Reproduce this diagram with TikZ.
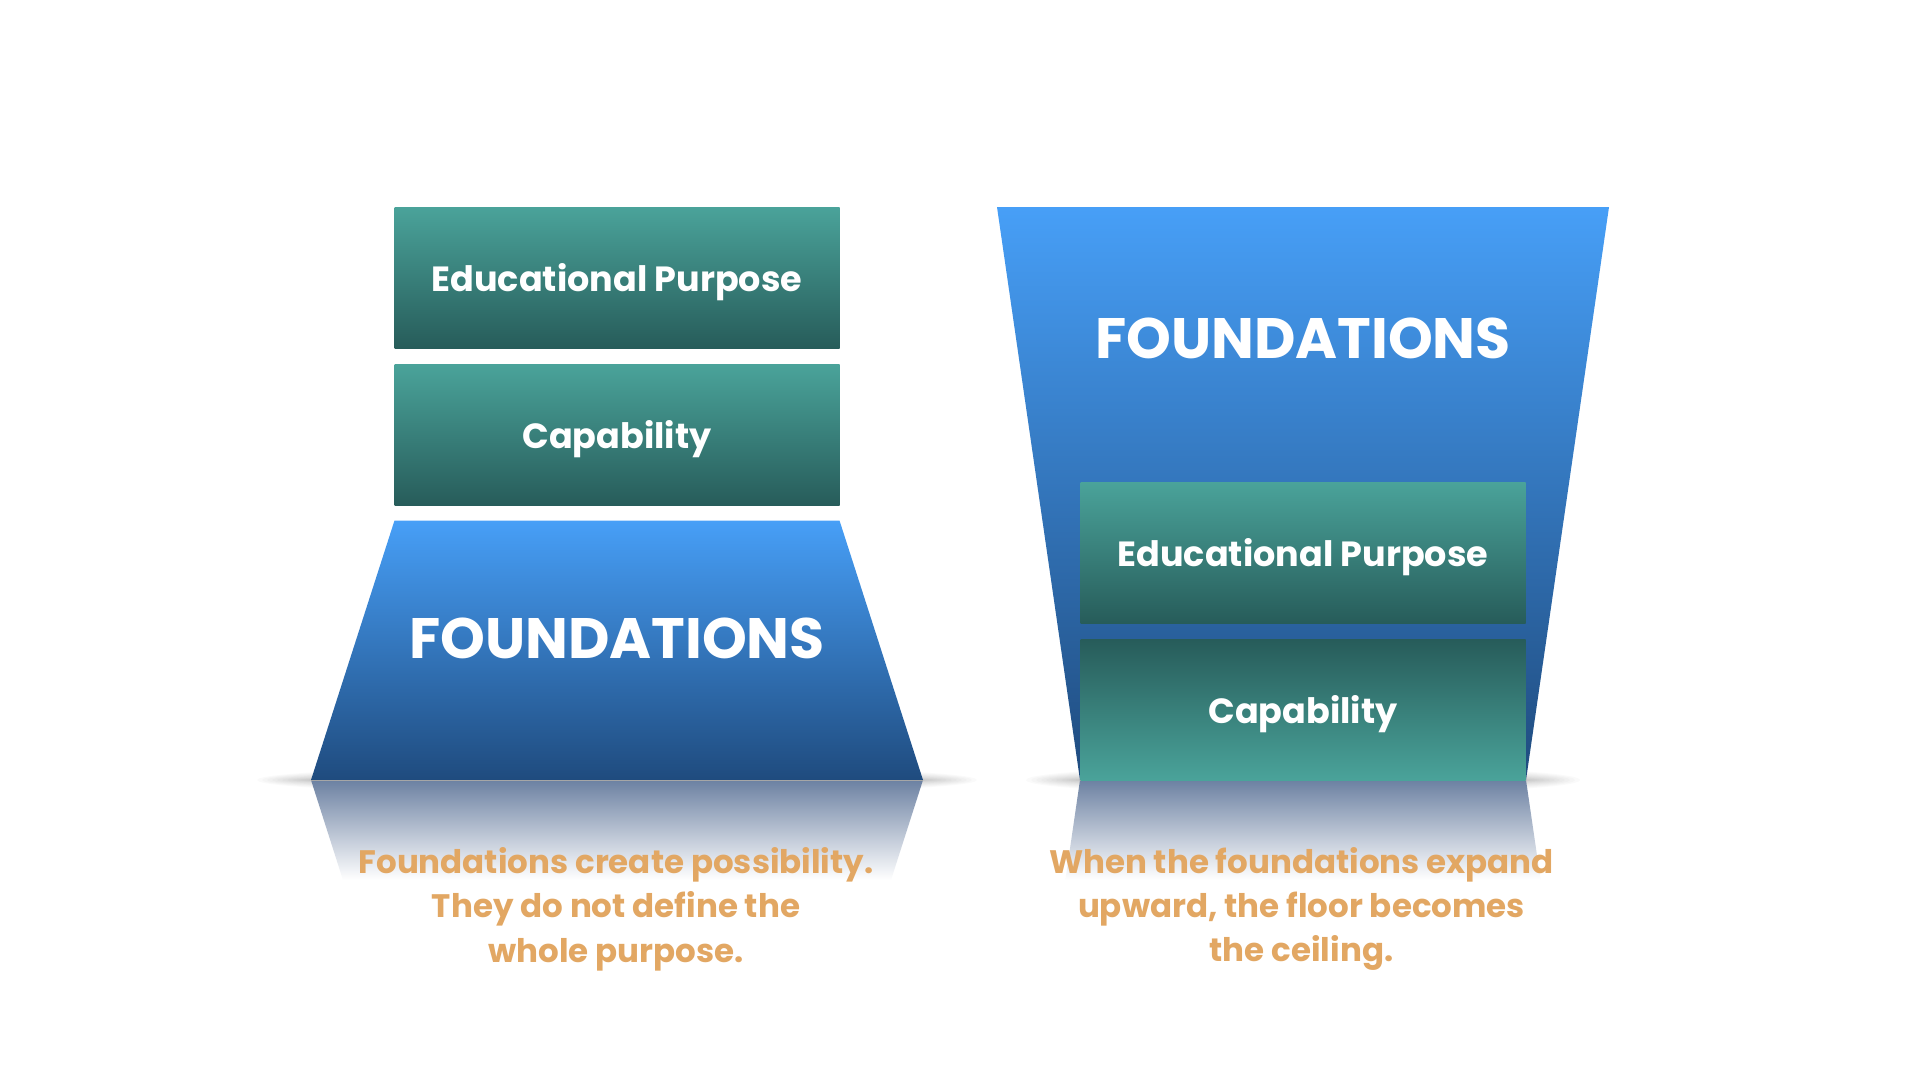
\documentclass[tikz,border=0pt]{standalone}
\usepackage{fontspec}
\setmainfont{Poppins}
\usetikzlibrary{positioning}

\definecolor{tealtop}{HTML}{4AA39A}
\definecolor{tealbot}{HTML}{275C5A}
\definecolor{bluetop}{HTML}{479FF7}
\definecolor{bluebot}{HTML}{1F4B7E}
\definecolor{reflcol}{HTML}{6C81A2}
\definecolor{capcol}{HTML}{E2A763}

\tikzset{
	tealbox/.style={minimum width=445pt, minimum height=141pt, inner sep=0pt,
		text depth=1pt, top color=tealtop, bottom color=tealbot, text=white,
		font=\bfseries\fontsize{35}{40}\selectfont},
	bigword/.style={text=white, font=\bfseries\fontsize{57}{64}\selectfont},
	caption/.style={text=capcol, align=center,
		font=\bfseries\fontsize{32.5}{44.3}\selectfont}
}

\begin{document}
\begin{tikzpicture}[x=1pt,y=-1pt]
		\def\gap{16pt}
		\def\base{780}
		\fill[white] (0,0) rectangle (1920,1080);
		\useasboundingbox (0,0) rectangle (1920,1080);
		% ombre alla base
		\foreach \k in {1,...,12} {
			\fill[black,opacity=0.02] (617,\base) ellipse [x radius=300+5*\k, y radius=1.2*\k];
			\fill[black,opacity=0.02] (1303,\base) ellipse [x radius=217+5*\k, y radius=1.2*\k];
		}
		% riflessi
		\shade[top color=reflcol, bottom color=white] (311,\base) -- (923,\base) -- (891,880) -- (343,880) -- cycle;
		\shade[top color=reflcol, bottom color=white] (1080,\base) -- (1526,\base) -- (1540.6,880) -- (1065.4,880) -- cycle;
		% basi
		\shade[top color=bluetop, bottom color=bluebot] (394.5,520.5) -- (839.5,520.5) -- (923,\base) -- (311,\base) -- cycle;
		\shade[top color=bluetop, bottom color=bluebot] (997,207) -- (1609,207) -- (1526,\base) -- (1080,\base) -- cycle;
		\draw[black!35, line width=1.2pt] (311,\base+0.6) -- (923,\base+0.6);
		\draw[black!35, line width=1.2pt] (1080,\base+0.6) -- (1526,\base+0.6);
		% sinistra
		\node[tealbox] (eduleft) at (617,277.5) {Educational Purpose};
		\node[tealbox, below=\gap of eduleft] (capleft) {Capability};
		\node[bigword] (foundleft) at (617,638) {FOUNDATIONS};
		% destra
		\node[bigword] (foundright) at (1303,338) {FOUNDATIONS};
		\node[tealbox] (eduright) at (1303,552.5) {Educational Purpose};
		\node[tealbox, below=\gap of eduright, top color=tealbot, bottom color=tealtop] (capright) {Capability};
		% didascalie
		\node[caption] (textleft) at (616,909) {Foundations create possibility.\\They do not define the\\whole purpose.};
		\node[caption] (textright) at (1301.5,909) {When the foundations expand\\upward, the floor becomes\\the ceiling.};
	\end{tikzpicture}
\end{document}
